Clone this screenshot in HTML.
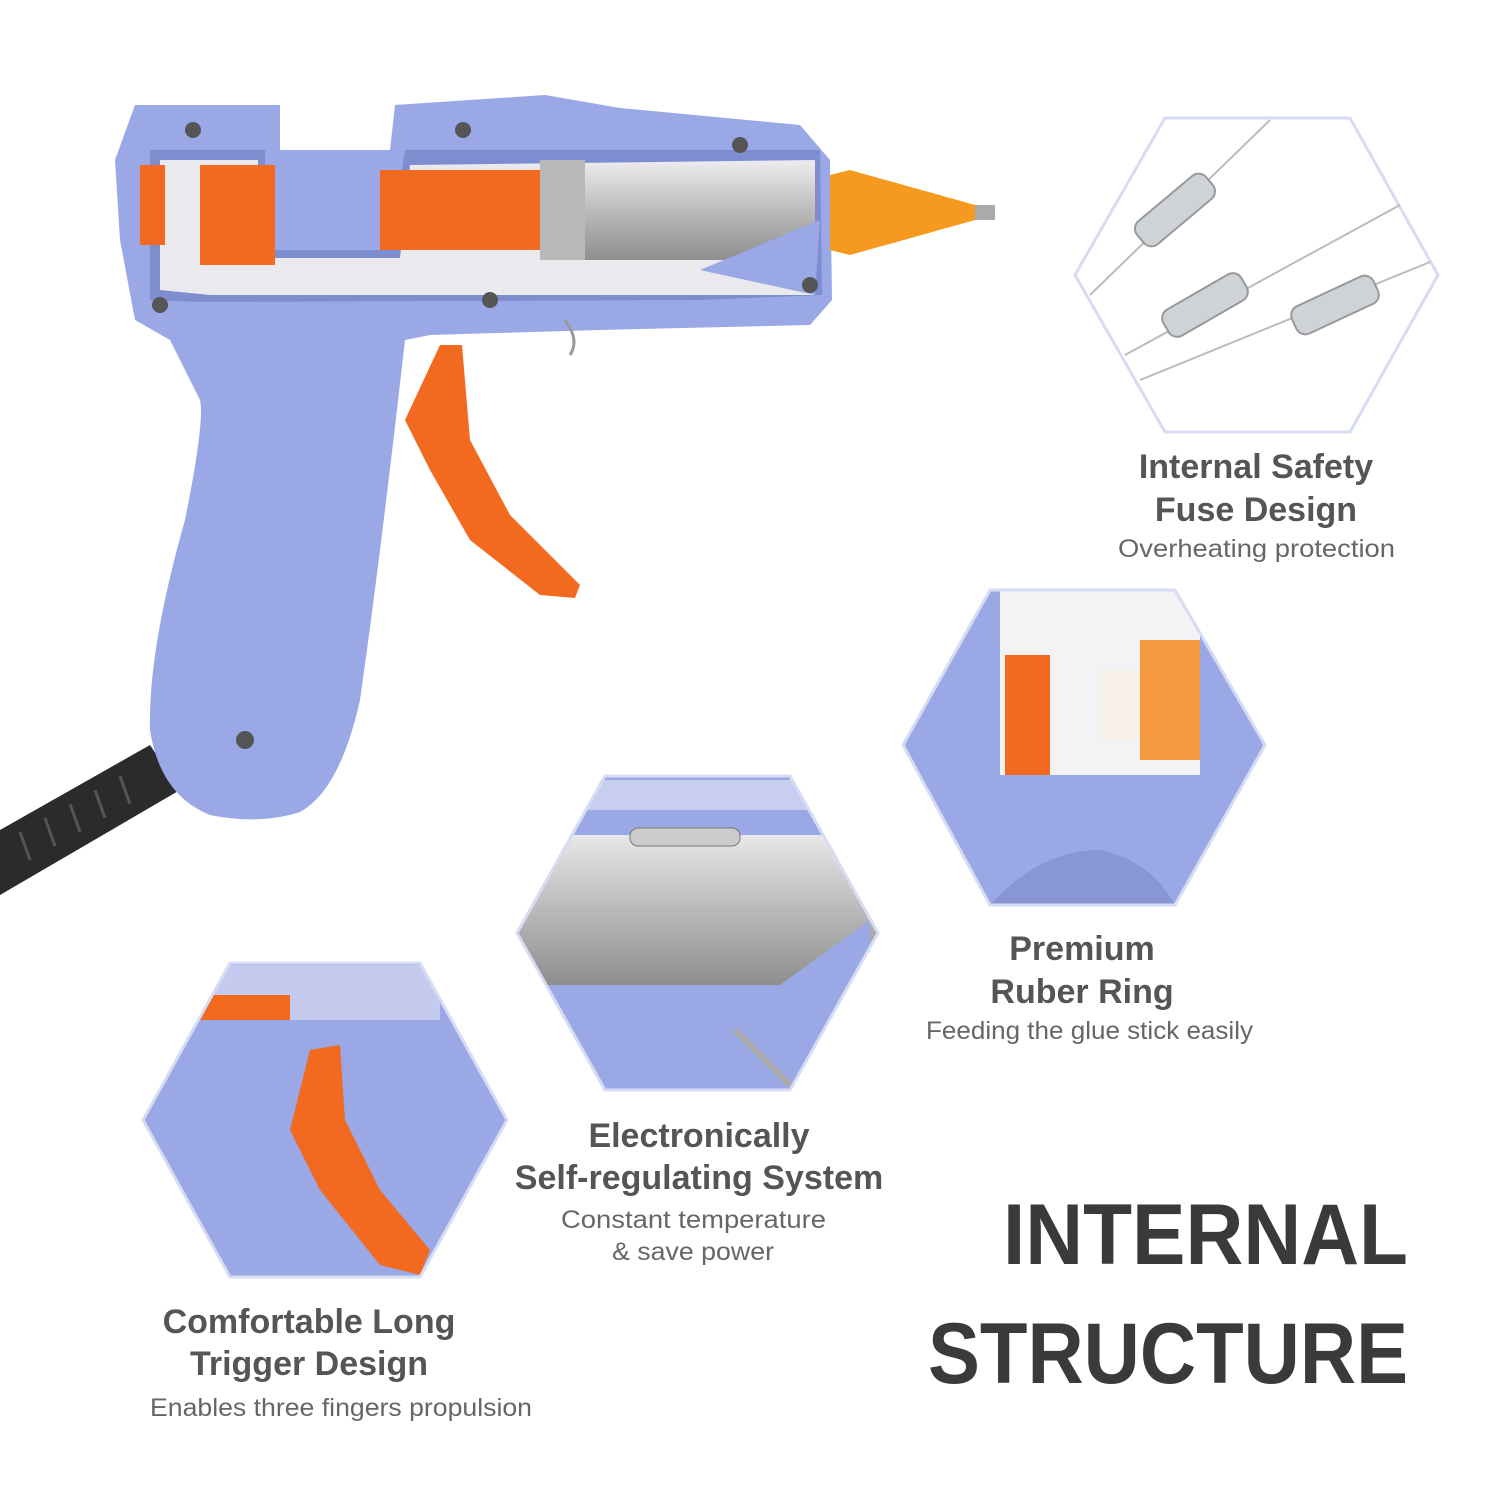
<!DOCTYPE html>
<html><head><meta charset="utf-8"><style>
html,body{margin:0;padding:0;background:#fff;}
svg{display:block}
text{font-family:"Liberation Sans",sans-serif;}
</style></head><body>
<svg width="1500" height="1500" viewBox="0 0 1500 1500" xmlns="http://www.w3.org/2000/svg">
<rect width="1500" height="1500" fill="#fff"/>
<defs>
<linearGradient id="metal" x1="0" y1="0" x2="0" y2="1"><stop offset="0" stop-color="#e8e8e8"/><stop offset="0.5" stop-color="#b9b9b9"/><stop offset="1" stop-color="#8f8f8f"/></linearGradient>
<clipPath id="h2"><polygon points="990,590 1175,590 1265,745 1175,905 990,905 903,745"/></clipPath>
<clipPath id="h3"><polygon points="605,776 790,776 878,933 790,1090 605,1090 517,933"/></clipPath>
<clipPath id="h4"><polygon points="230,963 420,963 507,1120 420,1277 230,1277 143,1120"/></clipPath>
</defs>

<path d="M0,830 L150,745 L180,790 L0,895 Z" fill="#2b2b2b"/>
<g stroke="#555" stroke-width="3">
<line x1="20" y1="832" x2="30" y2="860"/><line x1="45" y1="818" x2="55" y2="846"/><line x1="70" y1="804" x2="80" y2="832"/><line x1="95" y1="790" x2="105" y2="818"/><line x1="120" y1="776" x2="130" y2="804"/>
</g>
<path d="M135,105 L280,105 L280,150 L390,150 L395,105 L545,95 L620,108 L800,125 L830,160 L832,300 L810,325 L600,330 L430,335 L405,340 Q380,560 360,700 Q340,790 300,812 Q260,825 210,815 Q160,795 150,730 Q148,650 185,520 Q205,420 200,400 L170,340 L135,320 L120,240 L115,160 Z" fill="#9aa8e6"/>
<path d="M150,150 L265,150 L265,250 L390,250 L405,150 L820,150 L822,295 L700,300 L200,302 L150,300 Z" fill="#7e8dd0"/>
<path d="M160,160 L258,160 L258,258 L400,258 L410,165 L815,160 L815,295 L210,295 L160,290 Z" fill="#e9e9ee"/>
<rect x="200" y="165" width="75" height="100" fill="#f26a1f"/>
<rect x="380" y="170" width="210" height="80" fill="#f26a1f"/>
<rect x="140" y="165" width="25" height="80" fill="#f26a1f"/>
<rect x="540" y="160" width="45" height="100" fill="#b9b9b9"/>
<rect x="585" y="165" width="230" height="95" fill="url(#metal)"/>
<path d="M700,270 L820,220 L815,295 Z" fill="#9aa8e6"/>
<path d="M830,175 L850,170 L975,205 L975,220 L850,255 L830,250 Z" fill="#f59a1f"/>
<rect x="975" y="205" width="20" height="15" fill="#aaa"/>
<g fill="#555"><circle cx="193" cy="130" r="8"/><circle cx="463" cy="130" r="8"/><circle cx="740" cy="145" r="8"/><circle cx="810" cy="285" r="8"/><circle cx="160" cy="305" r="8"/><circle cx="490" cy="300" r="8"/><circle cx="245" cy="740" r="9"/></g>
<path d="M440,345 L462,345 L470,440 L510,515 L580,585 L575,598 L540,595 L470,540 L430,470 L405,420 Z" fill="#f26a1f"/>
<path d="M565,320 Q580,340 570,355" stroke="#999" stroke-width="3" fill="none"/>

<polygon points="1165,118 1350,118 1438,275 1350,432 1165,432 1075,275" fill="#fff" stroke="#d6dcf3" stroke-width="3"/>
<g stroke="#bbb" stroke-width="2">
<line x1="1090" y1="295" x2="1270" y2="120"/>
<line x1="1125" y1="355" x2="1400" y2="205"/>
<line x1="1140" y1="380" x2="1430" y2="262"/>
</g>
<g fill="#cfd3d8" stroke="#999" stroke-width="2">
<rect x="1130" y="195" width="90" height="30" rx="10" transform="rotate(-40 1175 210)"/>
<rect x="1160" y="290" width="90" height="30" rx="10" transform="rotate(-30 1205 305)"/>
<rect x="1290" y="290" width="90" height="30" rx="10" transform="rotate(-25 1335 305)"/>
</g>
<g clip-path="url(#h2)">
<rect x="900" y="585" width="370" height="325" fill="#9aa8e6"/>
<rect x="1000" y="590" width="200" height="185" fill="#f3f3f6"/>
<rect x="1005" y="655" width="45" height="120" fill="#f26a1f"/>
<rect x="1140" y="640" width="60" height="120" fill="#f59a40"/>
<rect x="1100" y="670" width="40" height="70" fill="#f7f1ea"/>
<path d="M990,905 Q1040,850 1100,850 Q1150,860 1175,905 Z" fill="#8896d6"/>
</g>
<polygon points="990,590 1175,590 1265,745 1175,905 990,905 903,745" fill="none" stroke="#d6dcf3" stroke-width="3"/>
<g clip-path="url(#h3)">
<rect x="515" y="770" width="370" height="325" fill="#9aa8e6"/>
<rect x="515" y="780" width="370" height="30" fill="#c7cef0"/>
<rect x="515" y="835" width="370" height="150" fill="url(#metal)"/>
<rect x="630" y="828" width="110" height="18" rx="8" fill="#ccc" stroke="#777"/>
<path d="M780,985 L870,920 L870,990 Z" fill="#9aa8e6"/>
<line x1="735" y1="1030" x2="790" y2="1085" stroke="#aaa" stroke-width="6"/>
</g>
<polygon points="605,776 790,776 878,933 790,1090 605,1090 517,933" fill="none" stroke="#d6dcf3" stroke-width="3"/>
<g clip-path="url(#h4)">
<rect x="140" y="960" width="370" height="320" fill="#9aa8e6"/>
<rect x="200" y="965" width="240" height="55" fill="#c4cbef"/>
<rect x="200" y="995" width="90" height="25" fill="#f26a1f"/>
<path d="M310,1050 L340,1045 L345,1120 L380,1190 L430,1250 L420,1275 L380,1265 L320,1190 L290,1130 Z" fill="#f26a1f"/>
</g>
<polygon points="230,963 420,963 507,1120 420,1277 230,1277 143,1120" fill="none" stroke="#d6dcf3" stroke-width="3"/>

<g fill="#555" font-size="34" text-anchor="middle" font-weight="bold">
<text x="1256" y="478">Internal Safety</text>
<text x="1256" y="521">Fuse Design</text>
<text x="1082" y="960">Premium</text>
<text x="1082" y="1003">Ruber Ring</text>
<text x="699" y="1147">Electronically</text>
<text x="699" y="1189">Self-regulating System</text>
<text x="309" y="1333">Comfortable Long</text>
<text x="309" y="1375">Trigger Design</text>
</g>
<g fill="#666" font-size="25">
<text x="1118" y="557" textLength="277" lengthAdjust="spacingAndGlyphs">Overheating protection</text>
<text x="926" y="1039" textLength="327" lengthAdjust="spacingAndGlyphs">Feeding the glue stick easily</text>
<text x="561" y="1228" textLength="265" lengthAdjust="spacingAndGlyphs">Constant temperature</text>
<text x="612" y="1260" textLength="162" lengthAdjust="spacingAndGlyphs">&amp; save power</text>
<text x="150" y="1416" textLength="382" lengthAdjust="spacingAndGlyphs">Enables three fingers propulsion</text>
</g>
<g fill="#3a3a3a" font-size="86" font-weight="bold">
<text x="1003" y="1264" textLength="405" lengthAdjust="spacingAndGlyphs">INTERNAL</text>
<text x="928" y="1383" textLength="480" lengthAdjust="spacingAndGlyphs">STRUCTURE</text>
</g>
</svg>
</body></html>
